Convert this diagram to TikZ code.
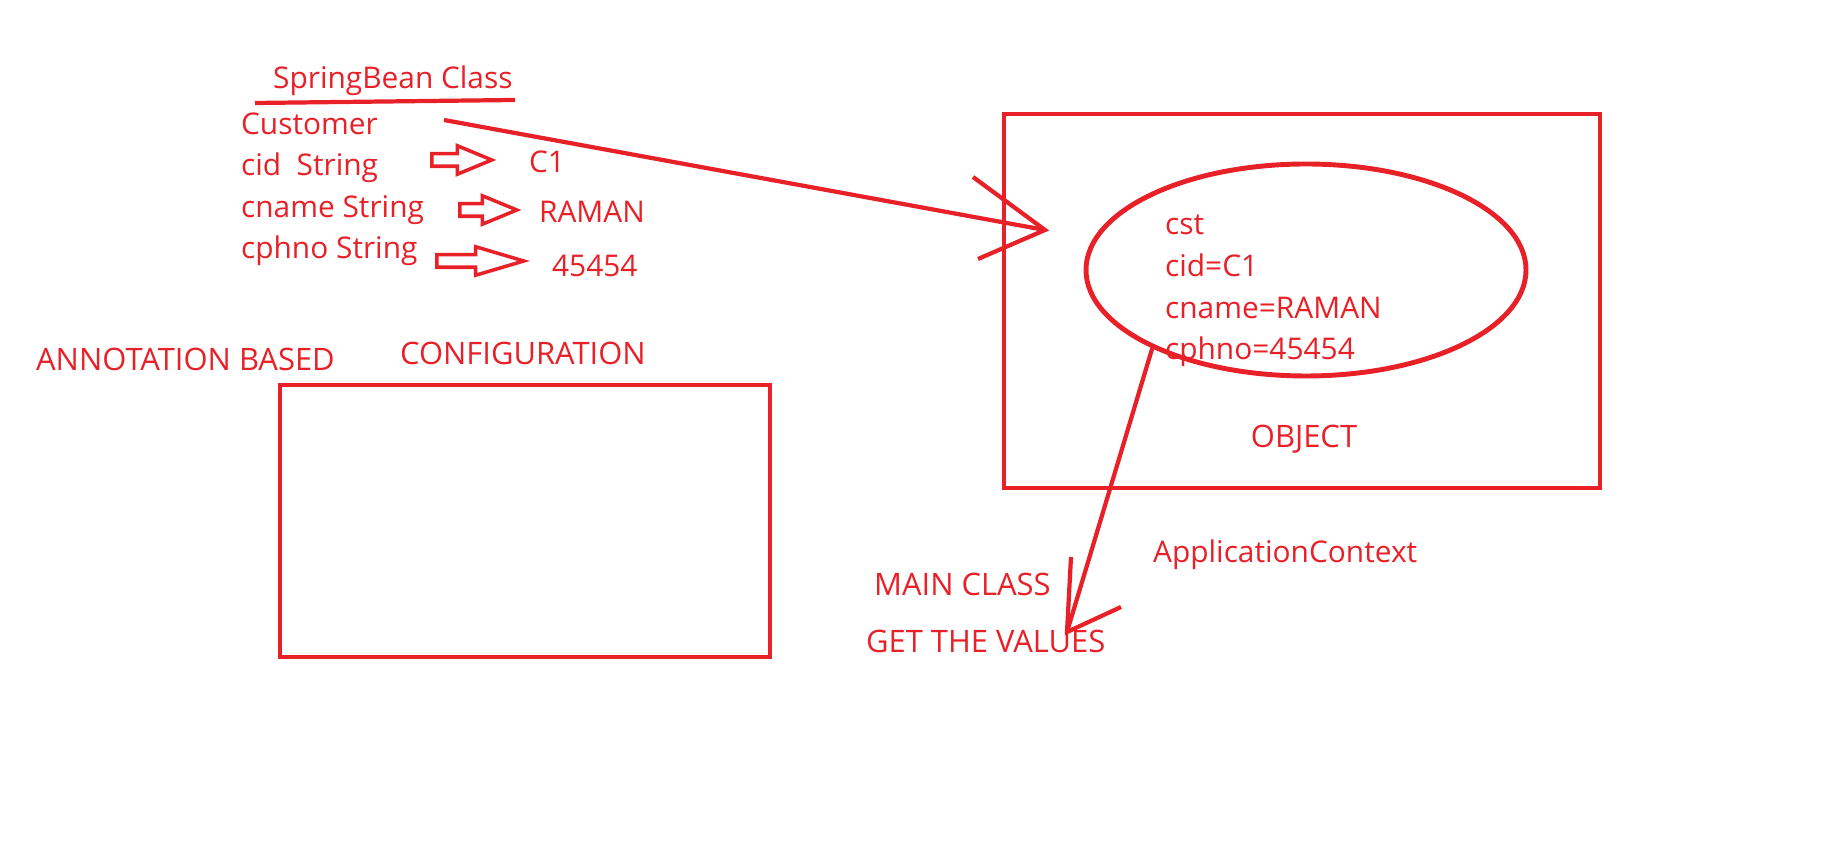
\documentclass[tikz,border=0pt]{standalone}
\usepackage{fontspec}
\setmainfont{Open Sans}
\usetikzlibrary{shapes.geometric,shapes.arrows}
\definecolor{pen}{RGB}{232,32,40}

\begin{document}
\begin{tikzpicture}[x=0.1mm, y=-0.1mm, line width=1.2pt, draw=pen,
  txt/.style={anchor=base west, inner sep=0pt, text=pen, font=\fontsize{8.5}{10}\selectfont},
  caps/.style={txt, font=\fontsize{8.8}{10}\selectfont},
  box/.style={draw=pen, line width=1.4pt, inner sep=0pt},
  fat/.style={single arrow, draw=pen, line width=1pt, anchor=tail, inner xsep=0pt,
    inner ysep=0.45mm, single arrow head extend=0.8mm, single arrow tip angle=45}]

\useasboundingbox (0,0) rectangle (1831,846);

% the bean class
\node[txt] (title) at (271,89) {SpringBean Class};
\draw (255,103) -- (515,100);
\node[txt] (cust) at (239,135) {Customer};
\node[txt] (cid) at (239,176) {cid~~String};
\node[txt] (cname) at (239,218) {cname String};
\node[txt] (cphno) at (239,259) {cphno String};

\node[fat, minimum height=6mm] (fat1) at (430,160) {};
\node[fat, minimum height=5.7mm] (fat2) at (458,210) {};
\node[fat, minimum height=8.7mm, single arrow tip angle=33] (fat3) at (435,261) {};

\node[txt] (val1) at (527,173) {C1};
\node[txt] (val2) at (537,223) {RAMAN};
\node[txt] (val3) at (550,277) {45454};

% the object
\node[box, minimum width=59.6mm, minimum height=37.4mm] (objbox) at (1302,301) {};
\node[box, ellipse, minimum width=44mm, minimum height=21.2mm] (bean) at (1306,270) {};
\node[txt] (cst) at (1163,235) {cst};
\node[txt] (set1) at (1163,277) {cid=C1};
\node[txt] (set2) at (1163,319) {cname=RAMAN};
\node[txt] (set3) at (1163,360) {cphno=45454};
\node[caps, anchor=base] (objlbl) at (1304,448) {OBJECT};

% configuration
\node[caps] (annot) at (34,371) {ANNOTATION BASED};
\node[caps] (config) at (398,365) {CONFIGURATION};
\node[box, minimum width=49mm, minimum height=27.2mm] (confbox) at (525,521) {};

% main class
\node[txt] (ctx) at (1151,563) {ApplicationContext};
\node[caps] (mainc) at (872,596) {MAIN CLASS};
\node[caps] (getv) at (864,653) {GET THE VALUES};

% arrows
\coordinate (custout) at (444,120);
\coordinate (tipA) at (1045,230);
\coordinate (tipB) at (1067,632);
\draw (custout) -- (tipA);
\draw (tipA) ++(-72,-53) -- (tipA) -- ++(-67,29);
\draw (bean.207) -- (tipB);
\draw (tipB) ++(4,-75) -- (tipB) -- ++(54,-25);

\end{tikzpicture}
\end{document}
